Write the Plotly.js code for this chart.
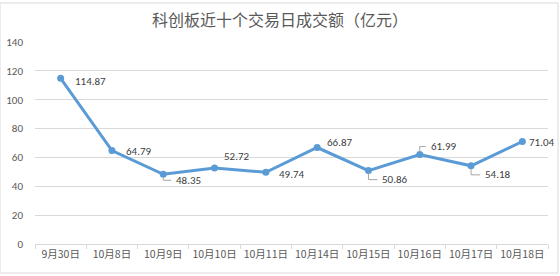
<!DOCTYPE html>
<html><head><meta charset="utf-8">
<script src="https://cdn.plot.ly/plotly-3.0.1.min.js"></script>
<style>html,body{margin:0;padding:0;background:#fff}#c{width:560px;height:276px}</style>
</head><body><div id="c"></div>
<script>
const categories = ['9月30日','10月8日','10月9日','10月10日','10月11日','10月14日','10月15日','10月16日','10月17日','10月18日'];
const values = [114.87, 64.79, 48.35, 52.72, 49.74, 66.87, 50.86, 61.99, 54.18, 71.04];
const yTicks = [0, 20, 40, 60, 80, 100, 120, 140];

// label offsets in pixels [dx, dy] (style only); leader = draw small leader line
const labelOffsets = [[12,-3],[12,-1],[11,-6],[7,11],[11,-2],[8,5],[12,-9],[9,8],[12,-9],[5,-1]];
const leaders = [false,false,true,false,false,false,true,true,true,false];

const annotations = values.map((v,i)=>({
  x: categories[i], y: v, xref:'x', yref:'y',
  text: v.toFixed(2), showarrow:false, xanchor:'left', yanchor:'middle',
  xshift: labelOffsets[i][0], yshift: labelOffsets[i][1],
  font:{family:'Calibri, Carlito, "Liberation Sans", sans-serif', size:11, color:'#404040'}
}));

const shapes = [{type:'rect', xref:'paper', yref:'paper', x0:-35/513, x1:1+10/513, y0:-29/202, y1:1+39/202,
    line:{color:'#d9d9d9', width:1}, layer:'below'}];
values.forEach((v,i)=>{
  if(!leaders[i]) return;
  const dy = labelOffsets[i][1];
  const s = dy>0 ? 1 : -1;
  shapes.push({type:'line', xref:'x', yref:'y', xsizemode:'pixel', ysizemode:'pixel',
    xanchor:i, yanchor:v, x0:0, x1:0, y0:s*3, y1:dy, line:{color:'#a6a6a6', width:1}});
  shapes.push({type:'line', xref:'x', yref:'y', xsizemode:'pixel', ysizemode:'pixel',
    xanchor:i, yanchor:v, x0:0, x1:labelOffsets[i][0]-3, y0:dy, y1:dy, line:{color:'#a6a6a6', width:1}});
});

const trace = {
  type:'scatter', mode:'lines+markers', x: categories, y: values,
  line:{color:'#5B9BD5', width:3}, marker:{color:'#5B9BD5', size:7},
  hoverinfo:'none'
};
const layout = {
  width:560, height:276,
  margin:{l:35, r:12, t:42, b:32},
  paper_bgcolor:'#fff', plot_bgcolor:'#fff',
  showlegend:false,
  title:{text:'科创板近十个交易日成交额（亿元）', x:0.5, xanchor:'center', y:0.925, yanchor:'middle',
    font:{family:'"Noto Sans CJK SC", sans-serif', size:16, color:'#595959'}},
  xaxis:{type:'category', range:[-0.5, 9.5], showgrid:false, zeroline:false,
    showline:true, linecolor:'#d9d9d9', linewidth:1, tickangle:0,
    ticks:'outside', tickson:'boundaries', ticklen:4, tickcolor:'#d9d9d9',
    tickfont:{family:'"Noto Sans CJK SC", sans-serif', size:10.5, color:'#595959'}, fixedrange:true},
  yaxis:{range:[0,140], tickvals:yTicks, showgrid:true, gridcolor:'#d9d9d9', gridwidth:1,
    zeroline:false, showline:false, ticks:'', ticklabelstandoff:11,
    tickfont:{family:'Calibri, Carlito, "Liberation Sans", sans-serif', size:11, color:'#595959'}, fixedrange:true},
  annotations: annotations,
  shapes: shapes
};
Plotly.newPlot('c',[trace],layout,{displayModeBar:false, staticPlot:true});
</script></body></html>
